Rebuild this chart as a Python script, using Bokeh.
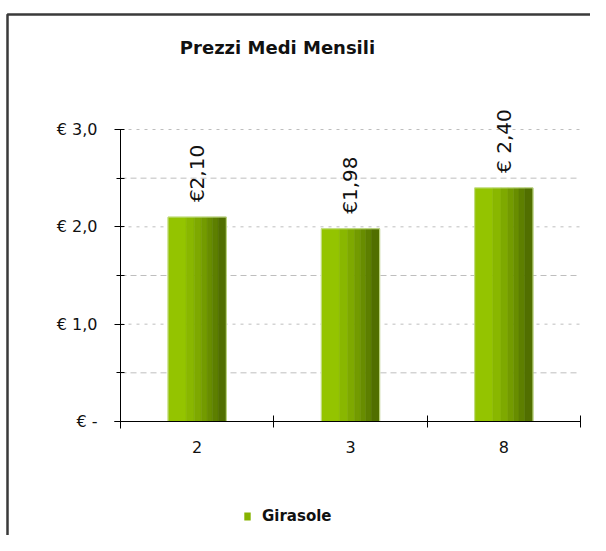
import numpy as np
from bokeh.plotting import figure
from bokeh.models import (FixedTicker, Label, Legend, LegendItem, PolyAnnotation,
                          ColumnDataSource, Range1d, LinearAxis)
from bokeh.core.properties import value
from bokeh.embed import file_html
from bokeh.resources import INLINE

# ---- data ----
categories = ["2", "3", "8"]
prices = [2.10, 1.98, 2.40]
price_labels = ["€2,10", "€1,98", "€ 2,40"]
series_name = "Girasole"
title_text = "Prezzi Medi Mensili"
y_ticks = [0, 1, 2, 3]
y_tick_labels = ["€ -", "€ 1,0", "€ 2,0", "€ 3,0"]
y_minor = [0.5, 1.5, 2.5]

# ---- styles ----
bar_w = 0.38
stripe_edges = [0.0, 0.31, 0.45, 0.57, 0.67, 0.76, 0.86, 1.0]
stripe_colors = ["#94C400", "#89B700", "#7EA900", "#739B00", "#688D00", "#5D7F00", "#516F00"]
FONT = "DejaVu Sans"
W, H = 590, 535
X0_PX, PX_X = 120, 153.333   # canvas x of data 0, px per x unit
Y0_PX, PX_Y = 421, 97.333    # canvas y of data 0, px per y unit

p = figure(width=W, height=H, output_backend="svg", toolbar_location=None,
           x_range=Range1d(-X0_PX / PX_X, (W - X0_PX) / PX_X),
           y_range=Range1d(-(H - Y0_PX) / PX_Y, Y0_PX / PX_Y),
           x_axis_location=None, y_axis_location=None,
           min_border=0)
p.outline_line_color = None
p.background_fill_color = "white"
p.xgrid.visible = False
p.ygrid.visible = False

n = len(categories)
centers = np.arange(n) + 0.5

# grid lines
maj_grid = [t for t in y_ticks if t > 0]
p.segment(x0=0, x1=n, y0=maj_grid, y1=maj_grid, line_color="#BEBEBE",
          line_dash="3 5", line_width=1)
p.segment(x0=0, x1=n, y0=y_minor, y1=y_minor, line_color="#BEBEBE",
          line_dash="6 4", line_width=1)

# bars drawn as vertical stripes (gradient look)
for k, col in enumerate(stripe_colors):
    f0, f1 = stripe_edges[k], stripe_edges[k + 1]
    xs = centers - bar_w / 2 + (f0 + f1) / 2 * bar_w
    p.vbar(x=xs, top=prices, bottom=0, width=(f1 - f0) * bar_w,
           fill_color=col, line_color=col, line_width=0.6)
p.vbar(x=centers, top=prices, bottom=0, width=bar_w, fill_color=None,
       line_color="#C5DE8A", line_width=1)

# value labels rotated
src = ColumnDataSource(dict(x=centers, y=prices, t=price_labels))
p.text(x="x", y="y", text="t", source=src, angle=np.pi / 2, text_align="left",
       text_baseline="middle", y_offset=-15, text_font=value(FONT),
       text_font_size="20px", text_color="#111111")

# axes at fixed locations
ya = LinearAxis(fixed_location=0, bounds=(-0.07, 3))
ya.ticker = FixedTicker(ticks=y_ticks, minor_ticks=y_minor)
ya.major_label_overrides = {t: l for t, l in zip(y_ticks, y_tick_labels)}
ya.axis_line_color = "black"
ya.major_tick_in = 4
ya.major_tick_out = 6
ya.minor_tick_in = 4
ya.minor_tick_out = 4
ya.major_tick_line_color = "black"
ya.minor_tick_line_color = "black"
ya.major_label_standoff = 17
ya.major_label_text_font = FONT
ya.major_label_text_font_size = "16px"
ya.major_label_text_color = "#111111"
p.add_layout(ya, "left")

xa = LinearAxis(fixed_location=0, bounds=(-0.04, n))
xa.ticker = FixedTicker(ticks=list(centers), minor_ticks=list(range(n + 1)))
xa.major_label_overrides = {float(c): lab for c, lab in zip(centers, categories)}
xa.axis_line_color = "black"
xa.major_tick_line_color = None
xa.major_tick_in = 0
xa.major_tick_out = 0
xa.minor_tick_in = 6
xa.minor_tick_out = 6
xa.minor_tick_line_color = "black"
xa.major_label_standoff = 13
xa.major_label_text_font = FONT
xa.major_label_text_font_size = "16px"
xa.major_label_text_color = "#111111"
p.add_layout(xa, "below")

# legend
proxy = p.vbar(x=[-10], top=[0], width=0.1, fill_color="#86B300", line_color=None)
legend = Legend(items=[LegendItem(label=series_name, renderers=[proxy])],
                location=(243, 10), padding=0, margin=0, spacing=0,
                glyph_width=8, glyph_height=10, label_standoff=11,
                border_line_color=None, background_fill_alpha=0,
                label_text_font=FONT, label_text_font_style="bold",
                label_text_font_size="15px", label_text_color="#111111")
p.add_layout(legend, "center")

# title
p.add_layout(Label(x=(277 - X0_PX) / PX_X, y=(Y0_PX - 47) / PX_Y, text=title_text,
                   text_align="center", text_baseline="middle", text_font=FONT,
                   text_font_style="bold", text_font_size="18px", text_color="#111111"))

# frame lines (left/top of chart box)
bx = (7 - X0_PX) / PX_X
by = (Y0_PX - 14) / PX_Y
p.add_layout(PolyAnnotation(xs=[bx, bx, 9, 9], ys=[-9, by, by, -9],
                            fill_alpha=0, line_alpha=1.0,
                            line_color="#3a3a3a", line_width=2.5))

open("out.html", "w").write(file_html(p, INLINE))
